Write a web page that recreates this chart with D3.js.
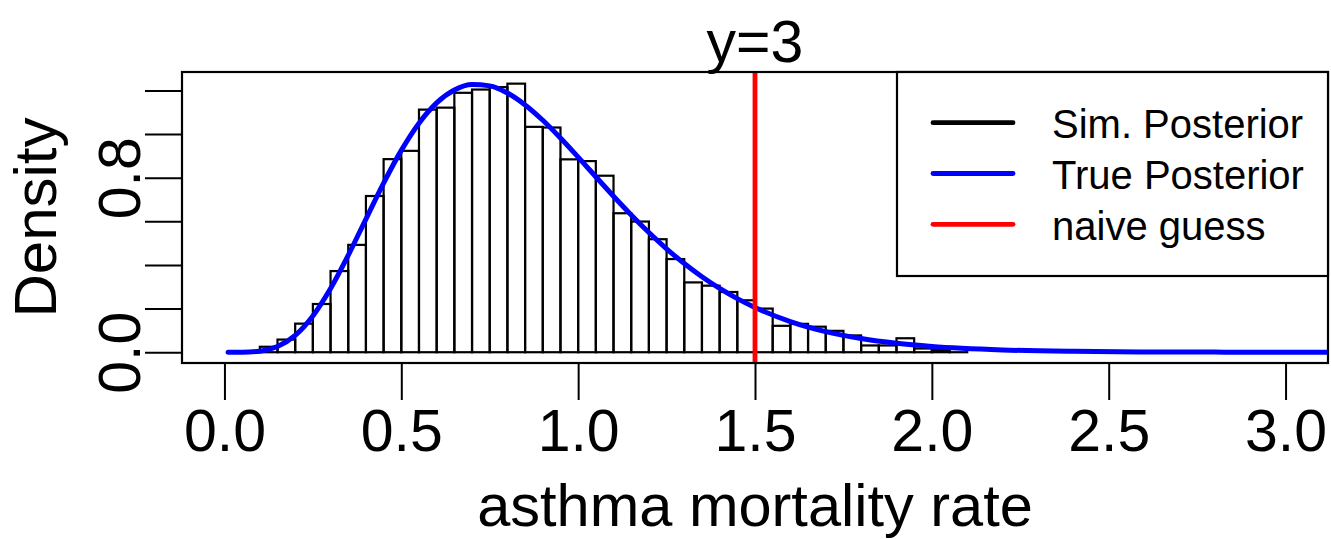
<!DOCTYPE html>
<html>
<head>
<meta charset="utf-8">
<script src="https://cdn.jsdelivr.net/npm/d3@7"></script>
<style>
  body { margin: 0; background: #fff; }
  svg { display: block; font-family: "Liberation Sans", Arial, Helvetica, sans-serif; }
</style>
</head>
<body>
<svg id="hist"></svg>
<script>
// histogram bins (left edges) and their densities
var binStarts = [0.10, 0.15, 0.20, 0.25, 0.30, 0.35, 0.40, 0.45, 0.50, 0.55,
                 0.60, 0.65, 0.70, 0.75, 0.80, 0.85, 0.90, 0.95, 1.00, 1.05,
                 1.10, 1.15, 1.20, 1.25, 1.30, 1.35, 1.40, 1.45, 1.50, 1.55,
                 1.60, 1.65, 1.70, 1.75, 1.80, 1.85, 1.90, 1.95, 2.00, 2.05]
var binDensity = [0.025, 0.058, 0.131, 0.221, 0.372, 0.492, 0.716, 0.885, 0.923, 1.112,
                  1.121, 1.189, 1.204, 1.215, 1.231, 1.033, 1.030, 0.884, 0.876, 0.809,
                  0.637, 0.599, 0.518, 0.427, 0.320, 0.305, 0.276, 0.238, 0.200, 0.121,
                  0.130, 0.117, 0.098, 0.077, 0.031, 0.031, 0.064, 0.017, 0.010, 0.018]
var binWidth = 0.05

// true posterior curve
var curveX = [0.01, 0.05, 0.10, 0.15, 0.20, 0.25, 0.30, 0.35, 0.40, 0.45,
              0.50, 0.55, 0.60, 0.65, 0.70, 0.75, 0.80, 0.85, 0.90, 0.95,
              1.00, 1.05, 1.10, 1.15, 1.20, 1.25, 1.30, 1.35, 1.40, 1.45,
              1.50, 1.60, 1.70, 1.80, 1.90, 2.00, 2.20, 2.40, 2.60, 2.80,
              3.00, 3.20]
var curveY = [0.0000, 0.0002, 0.0049, 0.0261, 0.0774, 0.1664, 0.2918, 0.4444, 0.6105, 0.7753,
              0.9252, 1.0500, 1.1432, 1.2021, 1.2270, 1.2209, 1.1880, 1.1336, 1.0631, 0.9817,
              0.8940, 0.8041, 0.7150, 0.6293, 0.5486, 0.4741, 0.4065, 0.3459, 0.2924, 0.2456,
              0.2050, 0.1406, 0.0945, 0.0625, 0.0407, 0.0261, 0.0104, 0.0039, 0.0015, 0.0005,
              0.0002, 0.0001]

var naiveGuess = 1.5
var title = "y=3"
var xTicks = [0, 0.5, 1, 1.5, 2, 2.5, 3]
var yTicks = [0, 0.2, 0.4, 0.6, 0.8, 1.0, 1.2]
var yLabelled = [0, 0.8]
var legendLabels = ["Sim. Posterior", "True Posterior", "naive guess"]
var legendColors = ["#000000", "#0000ff", "#ff0000"]

var dimensions = ({
    width: 1331,
    height: 539,
    box: { left: 182, right: 1328, top: 72, bottom: 363 }
})
var box = dimensions.box

var svg = d3.select("#hist")
            .attr("width", dimensions.width)
            .attr("height", dimensions.height)

// R style limits: xlim 0..3, ylim 0..1.235, both padded by 4%
var xScale = d3.scaleLinear()
               .domain([-0.12, 3.12])
               .range([box.left, box.right])
var yScale = d3.scaleLinear()
               .domain([-0.0494, 1.2844])
               .range([box.bottom, box.top])

svg.append("clipPath").attr("id", "plotclip")
   .append("rect")
   .attr("x", box.left).attr("y", box.top)
   .attr("width", box.right - box.left).attr("height", box.bottom - box.top)

// bars
svg.append("g")
   .selectAll("rect")
   .data(binStarts)
   .enter()
   .append("rect")
   .attr("x", function(d){ return xScale(d) })
   .attr("y", function(d, i){ return yScale(binDensity[i]) })
   .attr("width", function(d){ return xScale(d + binWidth) - xScale(d) })
   .attr("height", function(d, i){ return yScale(0) - yScale(binDensity[i]) })
   .attr("fill", "none")
   .attr("stroke", "#000")
   .attr("stroke-width", 2.2)

// blue density curve
var line = d3.line()
             .x(function(d){ return xScale(d) })
             .y(function(d, i){ return yScale(curveY[i]) })
             .curve(d3.curveMonotoneX)
svg.append("path")
   .attr("clip-path", "url(#plotclip)")
   .attr("d", line(curveX))
   .attr("fill", "none")
   .attr("stroke", "#0000ff")
   .attr("stroke-width", 5)
   .attr("stroke-linecap", "round")

// red vertical line
svg.append("line")
   .attr("x1", xScale(naiveGuess)).attr("x2", xScale(naiveGuess))
   .attr("y1", box.top).attr("y2", box.bottom)
   .attr("stroke", "#ff0000")
   .attr("stroke-width", 4.8)

// x axis
var xAxis = d3.axisBottom(xScale)
              .tickValues(xTicks)
              .tickSize(37)
              .tickSizeOuter(0)
              .tickFormat(d3.format(".1f"))
var gx = svg.append("g")
            .attr("transform", "translate(0," + box.bottom + ")")
            .call(xAxis)
gx.select(".domain").remove()
gx.selectAll("line").attr("stroke", "#000").attr("stroke-width", 2)
gx.selectAll("text")
  .attr("y", 88)
  .attr("dy", null)
  .attr("fill", "#000")
  .style("font-size", "59px")

// y axis, labels rotated like R
var yAxis = d3.axisLeft(yScale)
              .tickValues(yTicks)
              .tickSize(37)
              .tickSizeOuter(0)
              .tickFormat(function(d){ return yLabelled.indexOf(d) >= 0 ? d3.format(".1f")(d) : "" })
var gy = svg.append("g")
            .attr("transform", "translate(" + box.left + ",0)")
            .call(yAxis)
gy.select(".domain").remove()
gy.selectAll("line").attr("stroke", "#000").attr("stroke-width", 2)
gy.selectAll("text")
  .attr("x", null)
  .attr("dy", null)
  .attr("text-anchor", "middle")
  .attr("transform", "translate(-42,0) rotate(-90)")
  .attr("fill", "#000")
  .style("font-size", "59px")

// plot box
svg.append("rect")
   .attr("x", box.left).attr("y", box.top)
   .attr("width", box.right - box.left).attr("height", box.bottom - box.top)
   .attr("fill", "none")
   .attr("stroke", "#000")
   .attr("stroke-width", 2.2)

// titles
svg.append("text")
   .attr("x", (box.left + box.right) / 2)
   .attr("y", 62)
   .attr("text-anchor", "middle")
   .style("font-size", "59px")
   .text(title)

svg.append("text")
   .attr("x", (box.left + box.right) / 2)
   .attr("y", 526)
   .attr("text-anchor", "middle")
   .style("font-size", "59.5px")
   .text("asthma mortality rate")

svg.append("text")
   .attr("transform", "translate(56," + ((box.top + box.bottom) / 2) + ") rotate(-90)")
   .attr("text-anchor", "middle")
   .style("font-size", "60px")
   .text("Density")

// legend, top right corner
var legend = svg.append("g")
legend.append("rect")
      .attr("x", 897).attr("y", box.top)
      .attr("width", box.right - 897).attr("height", 204)
      .attr("fill", "#fff")
      .attr("stroke", "#000")
      .attr("stroke-width", 2.2)

var items = legend.selectAll("g.item")
                  .data(legendLabels)
                  .enter()
                  .append("g")
                  .attr("transform", function(d, i){ return "translate(0," + (122.7 + i * 50.8) + ")" })
items.append("line")
     .attr("x1", 933).attr("x2", 1013)
     .attr("stroke", function(d, i){ return legendColors[i] })
     .attr("stroke-width", 4.8)
     .attr("stroke-linecap", "round")
items.append("text")
     .attr("x", 1052)
     .attr("y", 15.5)
     .style("font-size", "40px")
     .text(function(d){ return d })
</script>
</body>
</html>
